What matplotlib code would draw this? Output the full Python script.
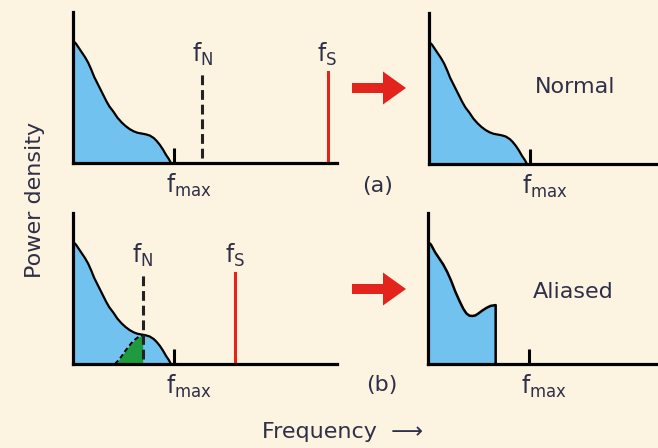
import numpy as np
import matplotlib.pyplot as plt
from matplotlib.patches import FancyArrow

# spectrum: frequency in units of f_max, power as fraction of axis height
freq = [0.00, 0.03, 0.06, 0.09, 0.12, 0.15, 0.18, 0.21, 0.24, 0.27, 0.30, 0.33, 0.36,
        0.40, 0.44, 0.48, 0.52, 0.56, 0.60, 0.64, 0.68, 0.72, 0.76, 0.80, 0.83, 0.86,
        0.89, 0.92, 0.95, 0.97]
power = [0.81, 0.79, 0.76, 0.73, 0.70, 0.665, 0.62, 0.57, 0.53, 0.49, 0.45, 0.41, 0.375,
         0.34, 0.30, 0.27, 0.245, 0.225, 0.21, 0.20, 0.195, 0.19, 0.182, 0.165, 0.145, 0.12,
         0.09, 0.055, 0.025, 0.0]

# folded (aliased) part in panel (b), left
fold_freq = [0.415, 0.45, 0.48, 0.51, 0.55, 0.58, 0.61, 0.65, 0.69]
fold_power = [0.0, 0.025, 0.05, 0.08, 0.115, 0.14, 0.16, 0.18, 0.19]

# aliased result in panel (b), right
alias_freq = [0.00, 0.03, 0.07, 0.11, 0.15, 0.19, 0.23, 0.27, 0.31, 0.35, 0.38, 0.41,
              0.44, 0.47, 0.50, 0.54, 0.58, 0.62, 0.67]
alias_power = [0.81, 0.79, 0.74, 0.70, 0.66, 0.61, 0.55, 0.48, 0.42, 0.365, 0.335, 0.32,
               0.318, 0.322, 0.335, 0.355, 0.372, 0.385, 0.39]

f_max = 1.0
f_nyq = [1.28, 0.69]     # (a), (b)
f_samp = [2.52, 1.60]
marker_top = 0.60

bg = '#fcf4e0'
blue = '#72c2ef'
green = '#1f9a3e'
red = '#e2241c'
txt = '#2f2f48'

W, H = 658, 448
fig = plt.figure(figsize=(W / 100, H / 100), dpi=100, facecolor=bg)


def panel(x0, y_axis, width):
    ax = fig.add_axes([x0 / W, 1 - y_axis / H, width / W, 151 / H])
    ax.set_facecolor('none')
    ax.set_xlim(0, width / 101)
    ax.set_ylim(0, 1)
    for s in ['top', 'right']:
        ax.spines[s].set_visible(False)
    for s in ['left', 'bottom']:
        ax.spines[s].set_linewidth(2.3)
        ax.spines[s].set_color('black')
    ax.set_xticks([])
    ax.set_yticks([])
    # f_max tick mark
    ax.plot([f_max, f_max], [0, 0.1], color='black', lw=2.2, solid_capstyle='butt')
    ax.text(f_max - 0.08, -0.06, r'$\mathregular{f_{max}}$', ha='left', va='top',
            fontsize=17, color=txt)
    return ax


def spectrum(ax, xs, ys):
    ax.fill_between(xs, ys, 0, color=blue, lw=0)
    ax.plot(xs, ys, color='black', lw=1.6, solid_joinstyle='round')


def markers(ax, fn, fs):
    ax.plot([fn, fn], [0.03, marker_top], color='#222222', lw=2.2, dashes=(3.2, 1.6))
    ax.plot([fs, fs], [0, marker_top], color=red, lw=2.2)
    ax.text(fn, marker_top + 0.03, r'$\mathregular{f_N}$', ha='center', va='bottom',
            fontsize=17, color=txt)
    ax.text(fs, marker_top + 0.03, r'$\mathregular{f_S}$', ha='center', va='bottom',
            fontsize=17, color=txt)


# (a) left
ax1 = panel(73, 163, 264)
spectrum(ax1, freq, power)
markers(ax1, f_nyq[0], f_samp[0])

# (b) left
ax2 = panel(73, 364, 264)
spectrum(ax2, freq, power)
ax2.fill_between(fold_freq, fold_power, 0, color=green, lw=0)
ax2.plot(fold_freq, fold_power, color='black', lw=1.4, dashes=(2.5, 1.5))
markers(ax2, f_nyq[1], f_samp[1])

# (a) right
ax3 = panel(429, 164, 229)
spectrum(ax3, freq, power)

# (b) right
ax4 = panel(428, 364, 230)
ax4.fill_between(alias_freq, alias_power, 0, color=blue, lw=0)
ax4.plot(alias_freq + [alias_freq[-1]], alias_power + [0], color='black', lw=1.8,
         solid_joinstyle='round')

# overlay in pixel coordinates for free labels and arrows
ov = fig.add_axes([0, 0, 1, 1])
ov.set_xlim(0, W)
ov.set_ylim(H, 0)
ov.axis('off')
ov.set_zorder(-1)

for yc in [88, 289]:
    ov.add_patch(FancyArrow(352, yc, 54, 0, width=10, head_width=33, head_length=23,
                            length_includes_head=True, color=red, lw=0))

ov.text(378, 186, '(a)', ha='center', va='center', fontsize=16, color=txt)
ov.text(382, 385, '(b)', ha='center', va='center', fontsize=16, color=txt)
ov.text(575, 87, 'Normal', ha='center', va='center', fontsize=16, color=txt)
ov.text(573, 292, 'Aliased', ha='center', va='center', fontsize=16, color=txt)
ov.text(35, 200, 'Power density', ha='center', va='center', rotation=90,
        fontsize=16, color=txt)
ov.text(343, 432, 'Frequency  \u27f6', ha='center', va='center', fontsize=16, color=txt)

fig.savefig('out.png', dpi=100, facecolor=bg)
